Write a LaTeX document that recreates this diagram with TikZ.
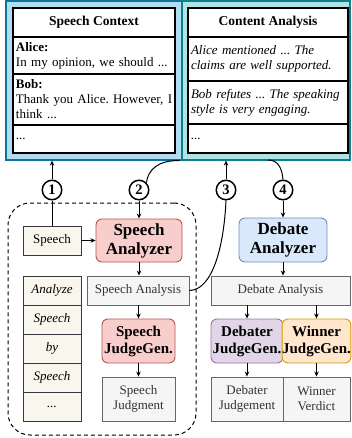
\documentclass[tikz,border=0pt]{standalone}
\usepackage{fontspec}
\setmainfont{Liberation Serif}
\usetikzlibrary{arrows.meta}
\definecolor{pLfill}{HTML}{B1DDF0}\definecolor{pLdraw}{HTML}{10739E}
\definecolor{pRfill}{HTML}{B0E3E6}\definecolor{pRdraw}{HTML}{0E8088}
\definecolor{crfill}{HTML}{F9F7ED}\definecolor{crdraw}{HTML}{36393D}
\definecolor{rdfill}{HTML}{F8CECC}\definecolor{rddraw}{HTML}{B85450}
\definecolor{blfill}{HTML}{DAE8FC}\definecolor{bldraw}{HTML}{6C8EBF}
\definecolor{gyfill}{HTML}{F5F5F5}\definecolor{gydraw}{HTML}{666666}\definecolor{gytext}{HTML}{333333}
\definecolor{pufill}{HTML}{E1D5E7}\definecolor{pudraw}{HTML}{9673A6}
\definecolor{orfill}{HTML}{FFE6CC}\definecolor{ordraw}{HTML}{D79B00}
\begin{document}
\frenchspacing
\begin{tikzpicture}[x=1pt,y=-1pt,
  panel/.style={draw, line width=1.2pt, inner sep=0pt},
  row/.style={draw=black, fill=white, line width=1.1pt, inner xsep=3pt, inner ysep=0pt, align=left, font=\fontsize{13}{15}\selectfont},
  hdr/.style={draw=black, fill=white, line width=1.1pt, inner sep=0pt, font=\fontsize{13.5}{15}\selectfont\bfseries},
  crbox/.style={draw=crdraw, fill=crfill, line width=0.9pt, inner sep=0pt, minimum width=58pt, minimum height=29pt, font=\fontsize{13}{15}\selectfont},
  gybox/.style={draw=gydraw, fill=gyfill, line width=0.9pt, inner sep=0pt, text=gytext, align=center, font=\fontsize{13}{15}\selectfont},
  agent/.style={draw, line width=0.9pt, rounded corners=6pt, inner sep=0pt, align=center, font=\fontsize{17}{19}\selectfont\bfseries},
  judge/.style={draw, line width=0.9pt, rounded corners=6pt, inner sep=0pt, align=center, font=\fontsize{15}{17}\selectfont\bfseries},
  num/.style={circle, draw=black, line width=1.5pt, fill=white, inner sep=0pt, minimum size=19.5pt, font=\fontsize{14.5}{14.5}\selectfont\bfseries},
  arr/.style={line width=1pt, -{Stealth[length=5pt,width=4.5pt]}},
  ln/.style={line width=1pt}
]
\useasboundingbox (0,0) rectangle (351,438);

% top panels
\node[panel, draw=pLdraw, fill=pLfill, minimum width=176pt, minimum height=159pt] (pl) at (94,80.5) {};
\node[panel, draw=pRdraw, fill=pRfill, minimum width=168pt, minimum height=159pt] (pr) at (266,80.5) {};

% left table
\node[hdr, minimum width=162pt, minimum height=29pt] (lh) at (94,22.5) {Speech Context};
\node[row, text width=156pt, minimum height=37pt] (la) at (94,55.5) {\mbox{\textbf{Alice:}}\\\mbox{In my opinion, we should ...}};
\node[row, text width=156pt, minimum height=51pt] (lb) at (94,99.5) {\mbox{\textbf{Bob:}}\\\mbox{Thank you Alice. However, I}\\\mbox{think ...}};
\node[row, text width=156pt, minimum height=28pt] (ld) at (94,139) {...};

% right table
\node[hdr, minimum width=160pt, minimum height=29pt] (rh) at (268,22.5) {Content Analysis};
\node[row, text width=154pt, minimum height=44pt, font=\fontsize{13}{15}\selectfont\itshape] (ra) at (268,59) {\mbox{Alice mentioned ... The}\\\mbox{claims are well supported.}};
\node[row, text width=154pt, minimum height=43pt, font=\fontsize{13}{15}\selectfont\itshape] (rb) at (268,102.5) {\mbox{Bob refutes ... The speaking}\\\mbox{style is very engaging.}};
\node[row, text width=154pt, minimum height=29pt, font=\fontsize{13}{15}\selectfont\itshape] (rd) at (268,138.5) {...};

% dashed group
\node[draw=black, dashed, dash pattern=on 4pt off 3pt, line width=1pt, rounded corners=22pt, inner sep=0pt, minimum width=188pt, minimum height=232pt] (grp) at (102,319) {};

% left column
\node[crbox] (sp) at (52,240.5) {Speech};
\node[crbox, font=\fontsize{13}{15}\selectfont\itshape] (c1a) at (52,290.5) {Analyze};
\node[crbox, font=\fontsize{13}{15}\selectfont\itshape] (c1b) at (52,319.5) {Speech};
\node[crbox, font=\fontsize{13}{15}\selectfont\itshape] (c1c) at (52,348.5) {by};
\node[crbox, font=\fontsize{13}{15}\selectfont\itshape] (c1d) at (52,377.5) {Speech};
\node[crbox, font=\fontsize{13}{15}\selectfont\itshape] (c1e) at (52,406.5) {...};

% speech side
\node[agent, draw=rddraw, fill=rdfill, minimum width=86pt, minimum height=43pt] (sa) at (139,240.5) {Speech\\Analyzer};
\node[gybox, minimum width=102pt, minimum height=29pt] (san) at (138,290.5) {Speech Analysis};
\node[judge, draw=rddraw, fill=rdfill, minimum width=73pt, minimum height=44pt] (sj) at (138.5,341) {Speech\\JudgeGen.};
\node[gybox, minimum width=73pt, minimum height=44pt] (sjd) at (138.5,399) {Speech\\Judgment};

% debate side
\node[agent, draw=bldraw, fill=blfill, minimum width=88pt, minimum height=44pt] (da) at (283,240) {Debate\\Analyzer};
\node[gybox, minimum width=139pt, minimum height=29pt] (dan) at (280.5,290.5) {Debate Analysis};
\node[judge, draw=pudraw, fill=pufill, minimum width=72pt, minimum height=44pt] (dj) at (247,341) {Debater\\JudgeGen.};
\node[judge, draw=ordraw, fill=orfill, minimum width=67pt, minimum height=44pt] (wj) at (316.5,341) {Winner\\JudgeGen.};
\node[gybox, minimum width=72pt, minimum height=44pt] (djd) at (247,399) {Debater\\Judgement};
\node[gybox, minimum width=67pt, minimum height=44pt] (wjd) at (316.5,399) {Winner\\Verdict};

% connectors inside
\draw[arr] (sp.east) -- (sa.west);
\draw[arr] (sa.south) -- (sa.south |- san.north);
\draw[arr] (san.south -| sj.north) -- (sj.north);
\draw[arr] (sj.south) -- (sjd.north);
\draw[arr] (da.south) -- (da.south |- dan.north);
\draw[arr] (dan.south -| dj.north) -- (dj.north);
\draw[arr] (dan.south -| wj.north) -- (wj.north);
\draw[arr] (dj.south) -- (djd.north);
\draw[arr] (wj.south) -- (wjd.north);

% circled numbers
\node[num] (n1) at (52,190) {1};
\node[num] (n2) at (139,190) {2};
\node[num] (n3) at (226,190) {3};
\node[num] (n4) at (283,190) {4};

\coordinate (k2) at ([xshift=-3pt]pl.south east);
\coordinate (k4) at (268,160);

\draw[ln] (sp.north) -- (n1.south);
\draw[arr] (n1.north) -- (n1.north |- pl.south);
\draw[ln] (k2) .. controls (158,160) and (148,170) .. (n2.north east);
\draw[arr] (n2.south) -- (sa.north);
\draw[ln] (san.east) .. controls (213,290) and (224,245) .. (n3.south);
\draw[arr] (n3.north) -- (n3.north |- pr.south);
\draw[ln] (k4) .. controls (278,160) and (282,168) .. (n4.north);
\draw[arr] (n4.south) -- (da.north);
\end{tikzpicture}
\end{document}
